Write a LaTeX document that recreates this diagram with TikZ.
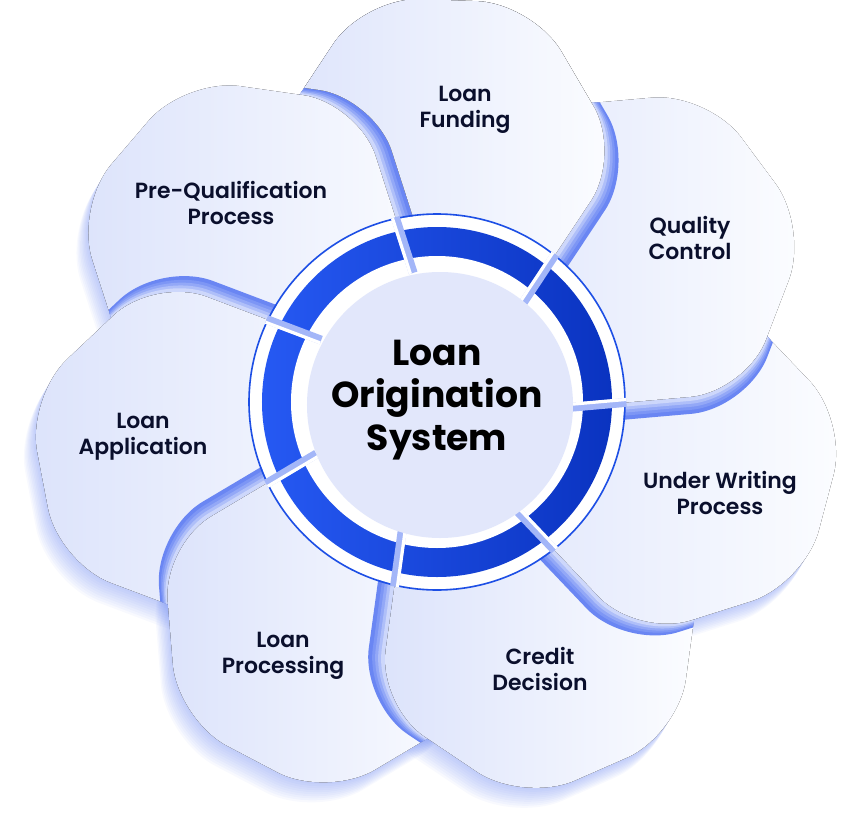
\documentclass[tikz,border=0pt]{standalone}
\usepackage{fontspec}
\setmainfont{Poppins}
\newfontfamily\labelfont{Poppins SemiBold}
\usepackage{xcolor}
\usepackage{tikz}
\usetikzlibrary{calc,positioning}

\definecolor{petalL}{HTML}{DCE3FB}
\definecolor{petalR}{HTML}{FCFDFF}
\definecolor{glowblue}{HTML}{5676EF}
\definecolor{shA}{HTML}{6A86F3}
\definecolor{shB}{HTML}{7D96F5}
\definecolor{shC}{HTML}{93A8F7}
\definecolor{shD}{HTML}{AFBFF9}
\definecolor{shE}{HTML}{CDD7FB}
\definecolor{ringL}{HTML}{2659F3}
\definecolor{ringR}{HTML}{0A33C0}
\definecolor{ringline}{HTML}{1D4FE5}
\definecolor{innerfill}{HTML}{E2E7FB}
\definecolor{divblue}{HTML}{A3B6F8}
\definecolor{textnavy}{HTML}{0A0F2C}

\def\rc{1.4cm}
% one petal, turned by #1 degrees
\newcommand{\petal}[1]{(100.21+#1:411.3) -- (76.47+#1:410.3) -- (53.29+#1:309) -- (-30.07+#1:17) -- (123.75+#1:308.1) -- cycle}
% fold of petal #1 lying on petal #2
\newcommand{\fold}[2]{%
  \begin{scope}
    \clip[rounded corners=\rc] \petal{#2};
    \foreach \s/\cl in {17/shA,13/shB,10/shC,7/shD,4/shE}
      \fill[\cl, rounded corners=\rc, shift={(-33.57+#1:\s)}] \petal{#1};
  \end{scope}}

\tikzset{
  petalfill/.style={left color=petalL, right color=petalR, rounded corners=\rc},
  lbl/.style={align=center, text=textnavy, font=\labelfont\fontsize{15.6}{18.2}\selectfont},
  title/.style={align=center, text=black, font=\bfseries\fontsize{25.7}{30}\selectfont},
  divider/.style={line width=0.22cm, divblue},
}

\begin{document}
\begin{tikzpicture}[x=0.025cm, y=0.025cm]
  \useasboundingbox (-437,-422) rectangle (405,402);
  % soft glow under the flower
  \foreach \i in {0,...,6}
    \foreach \k in {1,...,10}
      \fill[glowblue, opacity=0.045, rounded corners=\rc, shift={(-1.2*\k,-2*\k)}] \petal{-51.43*\i};
  % petals, each one over its clockwise neighbour
  \fill[petalfill] \petal{0};
  \foreach \i in {6,5,...,1} {
    \pgfmathsetmacro\rot{-51.43*\i}
    \pgfmathsetmacro\q{-51.43*(\i+1)}
    \fold{\rot}{\q}
    \fill[petalfill] \petal{\rot};
  }
  \fold{0}{-51.43}
  \begin{scope}[even odd rule]
    \clip[rounded corners=\rc, shift={(17.85:17)}] \petal{-308.58} (-700,-700) rectangle (700,700);
    \fill[petalfill] \petal{0};
  \end{scope}
  % centre
  \fill[white] (0,0) circle (187);
  \draw[ringline, line width=0.04cm] (0,0) circle (188);
  \shade[left color=ringL, right color=ringR] (0,0) circle (175);
  \fill[white] (0,0) circle (146);
  \foreach \i in {0,...,6} {
    \pgfmathsetmacro\rot{-51.43*\i}
    \draw[divider] ($(53.29+\rot:309)!0.39!(-30.07+\rot:17)$) coordinate (da\i)
      -- ($(53.29+\rot:309)!0.58!(-30.07+\rot:17)$) coordinate (db\i);
    \draw[white, line width=0.08cm] ($(da\i)+(146.43+\rot:3)$) -- ($(db\i)+(146.43+\rot:3)$);
  }
  \fill[innerfill] (3,-3) circle (133);
  \node[title] (los) at (0,2) {Loan\\Origination\\System};
  \foreach \n/\x/\y/\txt in {lf/28/292/{Loan\\Funding}, qc/253/164/{Quality\\Control},
      uw/283/-91/{Under Writing\\Process}, cd/103/-267/{Credit\\Decision},
      lp/-154/-254/{Loan\\Processing}, la/-294/-35/{Loan\\Application},
      pq/-206/199/{Pre-Qualification\\Process}}
    \node[lbl] (\n) at (\x,\y) {\txt};
\end{tikzpicture}
\end{document}
